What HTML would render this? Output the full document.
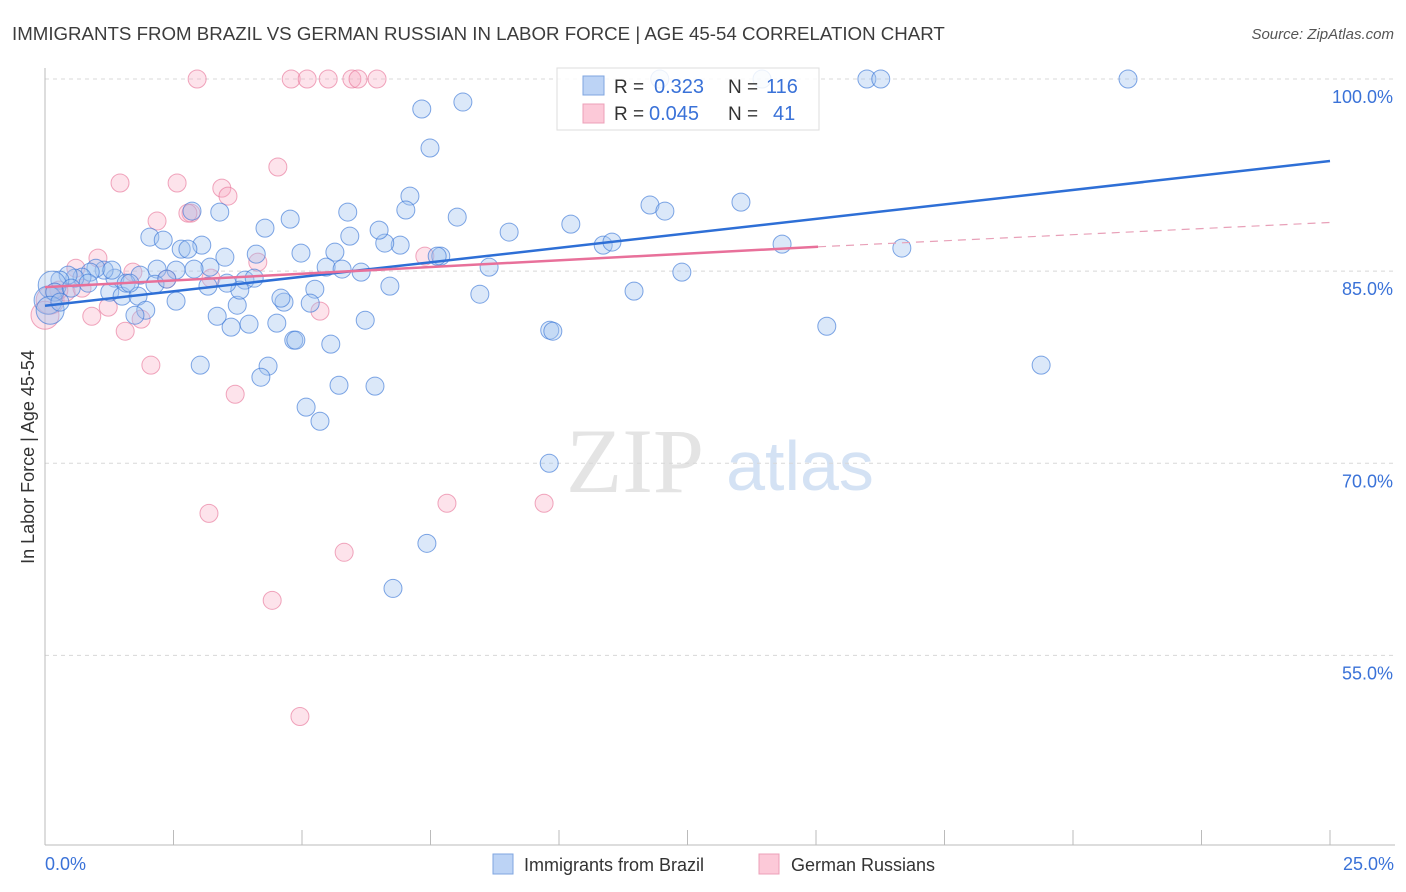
<!DOCTYPE html>
<html><head><meta charset="utf-8">
<style>
body{margin:0;background:#fff;font-family:"Liberation Sans",sans-serif;}
svg{display:block}
</style></head>
<body>
<svg id="chart" width="1406" height="892">
<text x="12" y="40" font-size="18.7" fill="#3c3c3c">IMMIGRANTS FROM BRAZIL VS GERMAN RUSSIAN IN LABOR FORCE | AGE 45-54 CORRELATION CHART</text>
<text x="1394" y="39" font-size="15" fill="#555" text-anchor="end" font-style="italic">Source: ZipAtlas.com</text>
<text x="34" y="457" font-size="18" fill="#333" text-anchor="middle" transform="rotate(-90 34 457)">In Labor Force | Age 45-54</text>
<g>
<text x="635" y="492" font-size="92" fill="#e4e4e4" text-anchor="middle" font-family="Liberation Serif,serif">ZIP</text>
<text x="800" y="490" font-size="70" fill="#d4e2f4" text-anchor="middle">atlas</text>
</g>
<g id="grid"></g>
<g id="axes"></g>
<g id="pinkPts"></g>
<g id="bluePts"></g>
<g id="lines"></g>
<g>
<rect x="557" y="68" width="262" height="62" fill="#fff" fill-opacity="0.85" stroke="#ddd"/>
<rect x="583" y="76" width="21" height="19" fill="#bcd3f5" stroke="#7fa6e0"/>
<rect x="583" y="104" width="21" height="19" fill="#fcc9d8" stroke="#eca0b8"/>
<text x="614" y="93" font-size="19" fill="#333">R = </text><text x="654" y="93" font-size="20" fill="#3a72d8">0.323</text>
<text x="728" y="93" font-size="19" fill="#333">N = </text><text x="766" y="93" font-size="20" fill="#3a72d8">116</text>
<text x="614" y="120" font-size="19" fill="#333">R = </text><text x="649" y="120" font-size="20" fill="#3a72d8">0.045</text>
<text x="728" y="120" font-size="19" fill="#333">N = </text><text x="773" y="120" font-size="20" fill="#3a72d8">41</text>
</g>
<g>
<rect x="493" y="854" width="20" height="20" fill="#bcd3f5" stroke="#7fa6e0"/>
<text x="524" y="871" font-size="18" fill="#333">Immigrants from Brazil</text>
<rect x="759" y="854" width="20" height="20" fill="#fcc9d8" stroke="#eca0b8"/>
<text x="791" y="871" font-size="18" fill="#333">German Russians</text>
</g>
</svg>
<script>
const yTicks=[100,85,70,55];
const xTickVals=[0,2.5,5,7.5,10,12.5,15,17.5,20,22.5,25];
const xLabels=["0.0%","25.0%"];
const blueX=[21.07,15.99,16.26,11.96,13.95,7.33,8.13,7.49,7.10,7.02,8.02,9.03,10.23,11.77,12.06,13.54,10.86,11.03,14.34,16.67,12.39,11.46,15.21,19.38,9.82,9.88,9.81,7.43,6.77,8.64,8.46,7.70,7.63,6.91,6.61,6.50,5.93,5.89,5.64,5.47,5.78,6.15,6.71,6.23,6.42,5.72,5.56,5.35,5.08,4.84,4.88,4.77,4.98,5.25,5.16,4.65,4.59,4.51,4.28,4.11,3.89,4.07,3.74,3.79,3.97,3.62,3.35,4.34,4.20,3.02,3.40,2.86,2.04,2.30,2.65,3.05,2.78,3.50,3.21,2.90,2.55,2.18,1.85,1.36,1.15,0.99,0.88,0.72,0.58,0.45,0.29,0.14,0.06,0.19,1.26,1.50,1.81,2.14,2.37,2.55,1.96,1.75,3.17,1.58,1.65,0.84,0.51,0.10,0.29,1.30,3.54];
const blueY=[100,100,100,100,100,97.66,98.20,94.61,90.86,89.77,89.22,88.05,88.67,90.16,89.69,90.39,87.03,87.27,87.11,86.80,84.92,83.44,80.70,77.66,80.39,80.31,70.0,63.75,60.23,85.31,83.20,86.17,86.17,87.03,87.19,88.20,87.73,89.61,86.48,85.31,85.16,84.92,83.83,81.17,76.02,76.09,79.30,73.28,74.38,79.61,79.61,89.06,86.41,83.59,82.50,82.58,82.89,80.94,88.36,86.33,84.30,84.45,82.34,83.52,80.86,80.63,81.48,77.58,76.72,77.66,89.61,89.69,87.66,87.42,86.72,87.03,86.72,86.09,85.31,85.16,85.08,85.16,84.69,84.45,85.08,85.23,84.92,84.53,84.45,84.69,84.30,83.91,82.73,83.36,83.36,83.05,83.05,83.98,84.38,82.66,81.95,81.56,83.83,84.06,84.06,84.06,83.67,81.95,82.58,85.08,84.06];
const pinkX=[2.96,4.79,5.10,5.51,5.97,6.09,6.46,1.46,2.57,4.53,3.44,3.56,2.18,2.84,1.03,0.60,1.23,1.56,1.87,0.91,1.71,2.37,3.23,4.14,5.35,7.39,2.06,3.70,3.19,7.82,9.71,5.82,4.42,4.96,0.10,0.41,0.72,0.0,0.27,2.78,0.19];
const pinkY=[100,100,100,100,100,100,100,91.88,91.88,93.13,91.48,90.86,88.91,89.53,86.02,85.23,82.19,80.31,81.25,81.48,84.92,84.38,84.45,85.70,81.88,86.17,77.66,75.39,66.09,66.88,66.88,63.05,59.30,50.23,82.73,83.36,83.67,81.56,83.52,89.53,83.36];
const blueTrend=[82.3,93.6];
const pinkTrend=[83.75,86.9,88.8];
const pinkSolidEnd=15.04;

const NS="http://www.w3.org/2000/svg";
const X0=45,X1=1330,Ymin=40.2,Ymax=100,PY0=845,PY1=79;
const sx=v=>X0+(v-0)/(25-0)*(X1-X0);
const sy=v=>PY0-(v-Ymin)/(Ymax-Ymin)*(PY0-PY1);
function mk(tag,attrs,parent){const e=document.createElementNS(NS,tag);for(const k in attrs)e.setAttribute(k,attrs[k]);parent.appendChild(e);return e;}
const grid=document.getElementById('grid'),axes=document.getElementById('axes');
yTicks.forEach(t=>{
 const l=mk('line',{x1:X0,x2:1395,y1:sy(t),y2:sy(t),stroke:'#d8d8d8','stroke-dasharray':'4,4'},grid);
 
 
 const tx=mk('text',{x:1393,y:sy(t)+24,'font-size':18,fill:'#3a72d8','text-anchor':'end'},grid);
 tx.textContent=t.toFixed(1)+'%';
 
 
});
const ya=mk('line',{x1:X0,x2:X0,y1:68,y2:PY0,stroke:'#bbb'},axes);


const xa=mk('line',{x1:X0,x2:1395,y1:PY0,y2:PY0,stroke:'#bbb'},axes);


xTickVals.forEach(t=>{
 const l=mk('line',{x1:sx(t),x2:sx(t),y1:830,y2:PY0,stroke:'#bbb'},axes);
 
 
});
const xl0=mk('text',{x:45,y:870,'font-size':18,fill:'#3a72d8'},axes);xl0.textContent=xLabels[0];


const xl1=mk('text',{x:1394,y:870,'font-size':18,fill:'#3a72d8','text-anchor':'end'},axes);xl1.textContent=xLabels[1];


function pts(xs,ys,g,fill,stroke,name){xs.forEach((x,i)=>{
 const big=x<0.15;
 const c=mk('circle',{cx:sx(x),cy:sy(ys[i]),r:big?14:9,fill:fill,stroke:stroke,'stroke-width':1},g);
 
 
});}
pts(pinkX,pinkY,document.getElementById('pinkPts'),'rgba(248,170,195,0.33)','rgba(232,120,155,0.65)','german-russian-point');
pts(blueX,blueY,document.getElementById('bluePts'),'rgba(160,195,240,0.38)','rgba(60,120,215,0.65)','brazil-point');
const lg=document.getElementById('lines');
const bl=mk('line',{x1:sx(0),y1:sy(blueTrend[0]),x2:sx(25),y2:sy(blueTrend[1]),stroke:'#2e6fd6','stroke-width':2.5},lg);


const pl=mk('line',{x1:sx(0),y1:sy(pinkTrend[0]),x2:sx(pinkSolidEnd),y2:sy(pinkTrend[1]),stroke:'#e8709a','stroke-width':2.5},lg);


const pd=mk('line',{x1:sx(pinkSolidEnd),y1:sy(pinkTrend[1]),x2:sx(25),y2:sy(pinkTrend[2]),stroke:'#e8a0b8','stroke-width':1.2,'stroke-dasharray':'8,6'},lg);


</script>
</body></html>
